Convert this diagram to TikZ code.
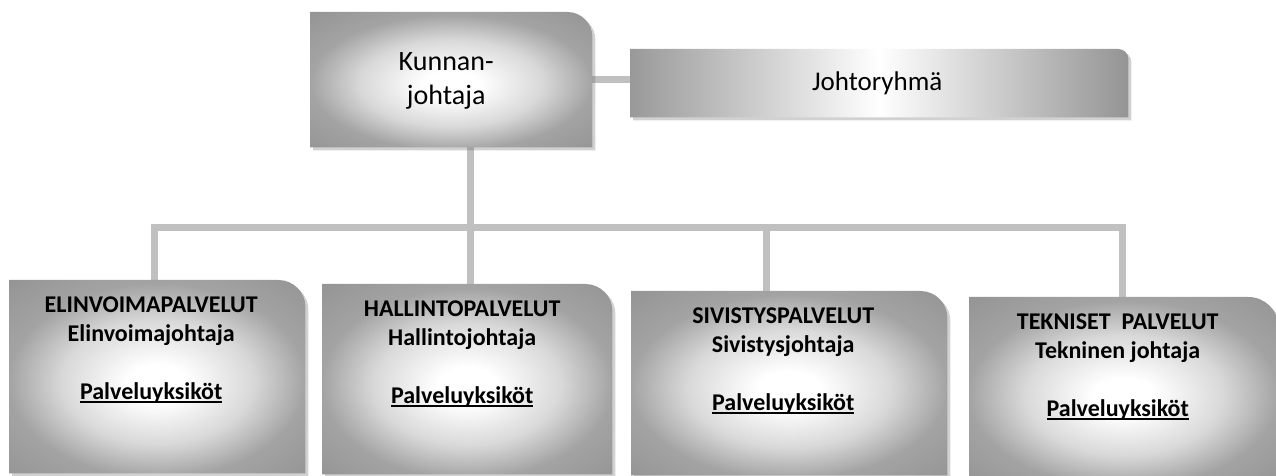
\documentclass[tikz,border=0pt]{standalone}
\usepackage{fontspec}
\setmainfont{Carlito}
\usetikzlibrary{shadows}
\pgfdeclareradialshading{boxglow}{\pgfpoint{0bp}{-2bp}}{color(0bp)=(white); color(5bp)=(white); color(16bp)=(black!15); color(25bp)=(black!36); color(36bp)=(black!42); color(50bp)=(black!42)}
\definecolor{conncol}{HTML}{C0C0C0}
\newcommand\cornerbox[3]{%
  \shade[#3] (#1.south west) -- (#1.north west) -- ([xshift=-#2]#1.north east)
    arc[start angle=90, end angle=0, radius=#2] -- (#1.south east) -- cycle;}
\newcommand\ulbase[1]{\setbox0\hbox{#1}\rlap{\rule[-2.6pt]{\wd0}{1.4pt}}\box0}
\begin{document}
\begin{tikzpicture}[x=1pt,y=1pt,
  frame/.style={shape=rectangle, inner sep=0pt, anchor=north west, draw=none},
  conn/.style={draw=conncol, line width=7pt},
  shadowed/.style={drop shadow={shadow xshift=3pt, shadow yshift=-3pt, opacity=0.3, fill=black!60}},
  glow/.style={shading=boxglow, shadowed},
  band/.style={left color=black!40, right color=black!42, middle color=white, shadowed},
  headtxt/.style={font=\fontsize{28}{34}\selectfont, align=center, inner sep=0pt},
  unittxt/.style={font=\fontsize{24}{29}\selectfont\bfseries, align=center, inner sep=0pt, anchor=north}]
\useasboundingbox (0,0) rectangle (1276,476);
% frames (positions of the boxes)
\node[frame, minimum width=282pt, minimum height=135pt] (K) at (310,464) {};
\node[frame, minimum width=498pt, minimum height=68pt] (J) at (630,427) {};
\node[frame, minimum width=296pt, minimum height=193pt] (B1) at (9,196) {};
\node[frame, minimum width=290pt, minimum height=190pt] (B2) at (322,192) {};
\node[frame, minimum width=316pt, minimum height=184pt] (B3) at (631,185) {};
\node[frame, minimum width=309pt, minimum height=186pt] (B4) at (969,179) {};
% connectors
\coordinate (barL) at (151,248);
\coordinate (barR) at (1125.5,248);
\coordinate (d1) at (154,248);
\coordinate (d2) at (470,248);
\coordinate (d3) at (766,248);
\coordinate (d4) at (1122,248);
\draw[conn] (K.east |- 0,396) -- (J.west |- 0,396);
\draw[conn] (K.south -| d2) -- (d2);
\draw[conn] (barL) -- (barR);
\draw[conn] (d1) -- (d1 |- B1.north);
\draw[conn] (d2) -- (d2 |- B2.north);
\draw[conn] (d3) -- (d3 |- B3.north);
\draw[conn] (d4) -- (d4 |- B4.north);
% boxes
\cornerbox{K}{25pt}{glow}
\cornerbox{J}{10pt}{band}
\cornerbox{B1}{27pt}{glow}
\cornerbox{B2}{27pt}{glow}
\cornerbox{B3}{27pt}{glow}
\cornerbox{B4}{30pt}{glow}
% texts
\node[headtxt] (Kt) at ([xshift=-5pt,yshift=-1pt]K.center) {Kunnan-\\johtaja};
\node[headtxt, font=\fontsize{27}{32}\selectfont] (Jt) at ([xshift=-2pt]J.center) {Johtoryhmä};
\node[unittxt] (T1) at ([xshift=-6pt,yshift=-17pt]B1.north) {ELINVOIMAPALVELUT\\Elinvoimajohtaja\\[29pt]\ulbase{Palveluyksiköt}};
\node[unittxt] (T2) at ([xshift=-5pt,yshift=-17pt]B2.north) {HALLINTOPALVELUT\\Hallintojohtaja\\[29pt]\ulbase{Palveluyksiköt}};
\node[unittxt] (T3) at ([xshift=-6pt,yshift=-17pt]B3.north) {SIVISTYSPALVELUT\\Sivistysjohtaja\\[29pt]\ulbase{Palveluyksiköt}};
\node[unittxt] (T4) at ([xshift=-6pt,yshift=-17pt]B4.north) {TEKNISET\ \ PALVELUT\\Tekninen johtaja\\[29pt]\ulbase{Palveluyksiköt}};
\end{tikzpicture}
\end{document}
